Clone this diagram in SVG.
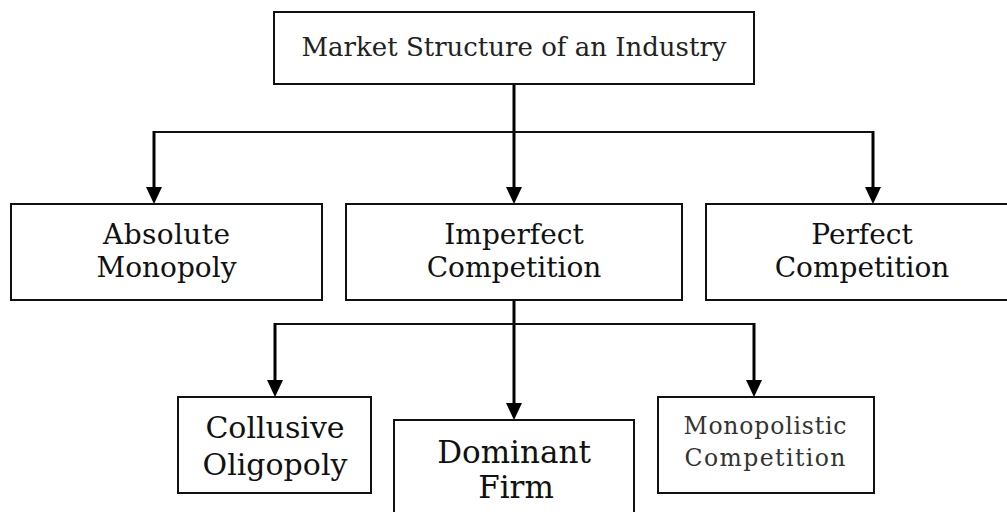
<svg xmlns="http://www.w3.org/2000/svg" width="1007" height="512" viewBox="0 0 1007 512">
  <style>
    .box { fill: #ffffff; stroke: #111111; stroke-width: 2; }
    .t { font-family: "DejaVu Serif", "Liberation Serif", serif; text-anchor: middle; fill: #111111; }
    .top { font-size: 26px; fill: #222222; }
    .mid { font-size: 28px; }
    .low { font-size: 30px; }
    .dom { font-size: 31px; }
    .mono { font-size: 23.5px; fill: #333333; }
    .v { stroke: #000000; stroke-width: 3; fill: none; }
    .h { stroke: #111111; stroke-width: 2; fill: none; }
  </style>
  <defs>
    <marker id="arrow" markerUnits="userSpaceOnUse" viewBox="0 0 17 16" markerWidth="17" markerHeight="16" refX="13" refY="8" orient="auto">
      <path d="M0,0 L17,8 L0,16 z" fill="#000000"/>
    </marker>
  </defs>
  <rect width="1007" height="512" fill="#ffffff"/>

  <g id="connectors">
    <line class="v" x1="514" y1="84" x2="514" y2="200" marker-end="url(#arrow)"/>
    <polyline class="h" points="154,132 873,132"/>
    <line class="v" x1="154" y1="131" x2="154" y2="200" marker-end="url(#arrow)"/>
    <line class="v" x1="873" y1="131" x2="873" y2="200" marker-end="url(#arrow)"/>
    <line class="v" x1="514" y1="300" x2="514" y2="416" marker-end="url(#arrow)"/>
    <polyline class="h" points="275,324 754,324"/>
    <line class="v" x1="275" y1="323" x2="275" y2="393" marker-end="url(#arrow)"/>
    <line class="v" x1="754" y1="323" x2="754" y2="393" marker-end="url(#arrow)"/>
  </g>

  <g id="market-structure">
    <rect class="box" x="274" y="12" width="480" height="72"/>
    <text class="t top" x="514" y="56">Market Structure of an Industry</text>
  </g>

  <g id="absolute-monopoly">
    <rect class="box" x="11" y="204" width="311" height="96"/>
    <text class="t mid" x="166.5" y="244" textLength="127">Absolute</text>
    <text class="t mid" x="166.5" y="277">Monopoly</text>
  </g>

  <g id="imperfect-competition">
    <rect class="box" x="346" y="204" width="336" height="96"/>
    <text class="t mid" x="514" y="244">Imperfect</text>
    <text class="t mid" x="514" y="277">Competition</text>
  </g>

  <g id="perfect-competition">
    <rect class="box" x="706" y="204" width="312" height="96"/>
    <text class="t mid" x="862" y="244">Perfect</text>
    <text class="t mid" x="862" y="277">Competition</text>
  </g>

  <g id="collusive-oligopoly">
    <rect class="box" x="178" y="397" width="193" height="96"/>
    <text class="t low" x="275" y="438">Collusive</text>
    <text class="t low" x="275" y="475">Oligopoly</text>
  </g>

  <g id="dominant-firm">
    <rect class="box" x="394" y="420" width="240" height="110"/>
    <text class="t dom" x="514" y="463">Dominant</text>
    <text class="t dom" x="516" y="498">Firm</text>
  </g>

  <g id="monopolistic-competition">
    <rect class="box" x="658" y="397" width="216" height="96"/>
    <text class="t mono" x="765" y="434" textLength="163">Monopolistic</text>
    <text class="t mono" x="765" y="466" textLength="161">Competition</text>
  </g>
</svg>
